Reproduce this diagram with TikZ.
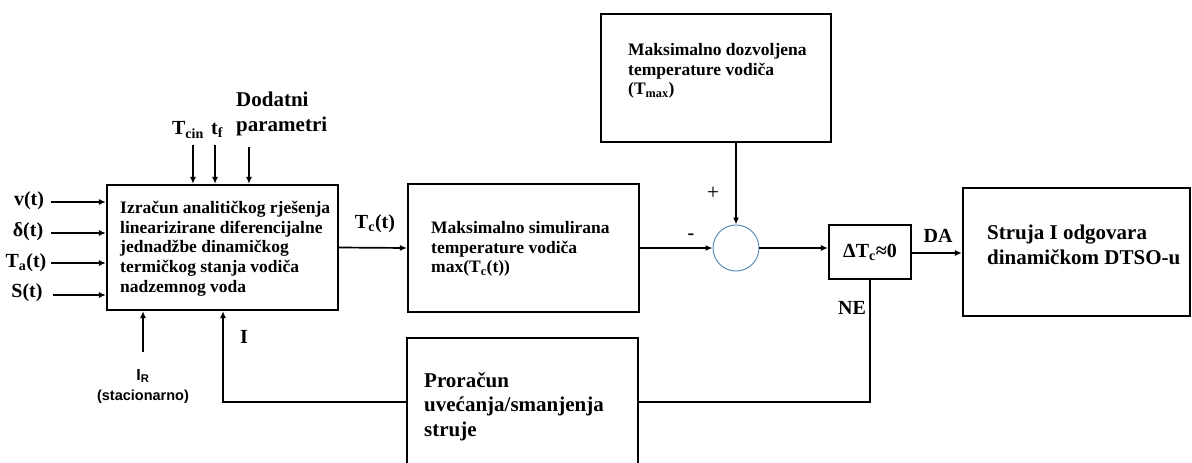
\documentclass[tikz,border=0pt]{standalone}
\usepackage{fontspec}
\setmainfont{Liberation Serif}
\newfontfamily\arialf{Liberation Sans}
\usetikzlibrary{arrows.meta}
\begin{document}
\begin{tikzpicture}[x=1pt,y=-1pt,
  blk/.style={draw, line width=2.1pt, inner sep=0},
  arr/.style={-{Latex[length=7pt,width=6pt]}, line width=1.7pt},
  ln/.style={line width=1.7pt},
  lbl/.style={font=\bfseries\fontsize{20}{22}\selectfont, inner sep=0},
  txt/.style={font=\bfseries\fontsize{17.5}{19.7}\selectfont, align=left, inner sep=0, anchor=north west},
  txtb/.style={font=\bfseries\fontsize{21}{24.5}\selectfont, align=left, inner sep=0, anchor=north west},
]
\useasboundingbox (0,0) rectangle (1192,463);
% blocks
\node[blk, minimum width=231pt, minimum height=125pt] (main) at (222.5,247.5) {};
\node[blk, minimum width=231pt, minimum height=128pt] (sim) at (523.5,248) {};
\node[blk, minimum width=230pt, minimum height=128pt] (doz) at (716,78) {};
\node[draw={rgb,255:red,80;green,130;blue,180}, line width=0.9pt, fill=white, circle, minimum size=46pt, inner sep=0] (sum) at (736,248) {};
\node[blk, minimum width=82pt, minimum height=54pt, font=\bfseries\fontsize{20}{22}\selectfont] (dt) at (870,252) {ΔT\textsubscript{c}≈0};
\node[blk, minimum width=227pt, minimum height=128pt] (st) at (1076.5,252) {};
\node[blk, minimum width=231pt, minimum height=170pt] (pr) at (522.5,423) {};
% texts in blocks
\node[txt] (maintxt) at (120,201) {Izračun analitičkog rješenja\\linearizirane diferencijalne\\jednadžbe dinamičkog\\termičkog stanja vodiča\\nadzemnog voda};
\node[txt] (simtxt) at (431,221) {Maksimalno simulirana\\temperature vodiča\\max(T\textsubscript{c}(t))};
\node[txt] (doztxt) at (628,43) {Maksimalno dozvoljena\\temperature vodiča\\(T\textsubscript{max})};
\node[txtb] (sttxt) at (987,225) {Struja I odgovara\\dinamičkom DTSO-u};
\node[txtb] (prtxt) at (424,372) {Proračun\\uvećanja/smanjenja\\struje};
% input labels
\node[lbl] (v) at (29,201) {v(t)};
\node[lbl] (d) at (28,232) {δ(t)};
\node[lbl] (ta) at (26,263) {T\textsubscript{a}(t)};
\node[lbl] (s) at (27,293) {S(t)};
\coordinate (vS) at (51,202);
\coordinate (dS) at (51,233);
\coordinate (taS) at (51,263);
\coordinate (sS) at (53,295);
\draw[arr] (vS) -- (vS -| main.west);
\draw[arr] (dS) -- (dS -| main.west);
\draw[arr] (taS) -- (taS -| main.west);
\draw[arr] (sS) -- (sS -| main.west);
% top inputs
\node[lbl] (tcin) at (188,130) {T\textsubscript{cin}};
\node[lbl] (tf) at (217,130) {t\textsubscript{f}};
\node[txtb] (dod) at (236,92) {Dodatni\\parametri};
\coordinate (tcinS) at (193,145);
\coordinate (tfS) at (215,145);
\coordinate (dodS) at (249,147);
\draw[arr] (tcinS) -- (tcinS |- main.north);
\draw[arr] (tfS) -- (tfS |- main.north);
\draw[arr] (dodS) -- (dodS |- main.north);
% I_R input
\node[font=\arialf\bfseries\fontsize{16}{18}\selectfont, inner sep=0] (ir) at (143,376) {I\textsubscript{R}};
\node[font=\arialf\bfseries\fontsize{14.5}{16}\selectfont, inner sep=0] (stac) at (143,397) {(stacionarno)};
\coordinate (irS) at (143,352);
\draw[arr] (irS) -- (irS |- main.south);
% main -> sim
\draw[arr] (main.east) -- (sim.west);
\node[lbl] (tc) at (375,224) {T\textsubscript{c}(t)};
% sim -> sum, doz -> sum
\draw[arr] (sim.east) -- (sum.west);
\draw[arr] (sum.north |- doz.south) -- (sum.north);
\node[font=\fontsize{22}{24}\selectfont, inner sep=0] (plus) at (713,193) {+};
\node[font=\bfseries\fontsize{20}{22}\selectfont, inner sep=0] (minus) at (691,237) {-};
% sum -> dt
\draw[arr] (sum.east) -- (sum.east -| dt.west);
% dt -> st
\coordinate (daS) at (911,253);
\draw[arr] (daS) -- (daS -| st.west);
\node[lbl] (da) at (938,236) {DA};
% feedback
\coordinate (fb) at (223,402);
\draw[ln] (dt.south) -- (dt.south |- fb) -- (fb -| pr.east);
\node[lbl] (ne) at (852,308) {NE};
\draw[arr] (fb -| pr.west) -- (fb) -- (fb |- main.south);
\node[lbl] (ilab) at (244,337) {I};
\end{tikzpicture}
\end{document}
